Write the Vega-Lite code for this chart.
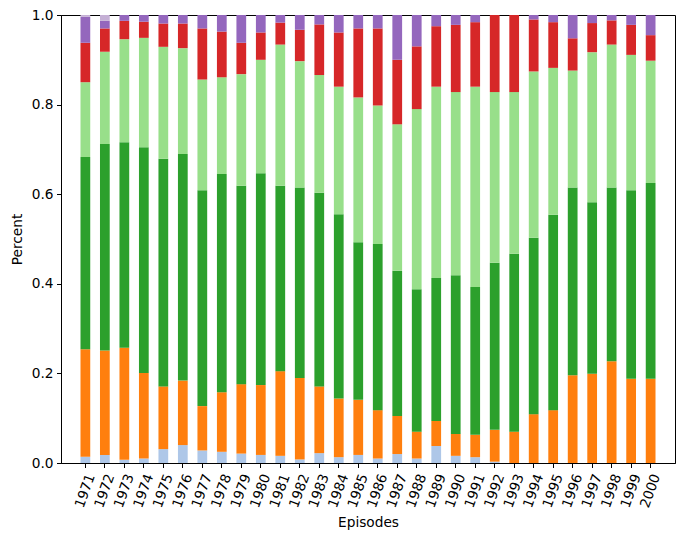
{
  "$schema": "https://vega.github.io/schema/vega-lite/v6.json",
  "width": 614,
  "height": 448,
  "autosize": "none",
  "padding": {"left": 61, "top": 15, "right": 14, "bottom": 78},
  "background": "white",
  "config": {
    "font": "DejaVu Sans",
    "view": {"stroke": "black", "strokeWidth": 1},
    "axis": {
      "grid": false,
      "domainColor": "black",
      "tickColor": "black",
      "tickSize": 4.5,
      "labelFontSize": 13.7,
      "labelColor": "black",
      "labelFont": "DejaVu Sans",
      "titleFont": "DejaVu Sans",
      "titleFontSize": 13.7,
      "titleFontWeight": "normal",
      "titleColor": "black"
    }
  },
  "data": {
    "values": [
      {"year": "1971", "group": "g1", "share": 0.014}, {"year": "1971", "group": "g2", "share": 0.240}, {"year": "1971", "group": "g3", "share": 0.429}, {"year": "1971", "group": "g4", "share": 0.167}, {"year": "1971", "group": "g5", "share": 0.088}, {"year": "1971", "group": "g6", "share": 0.058}, {"year": "1971", "group": "g7", "share": 0.004},
      {"year": "1972", "group": "g1", "share": 0.018}, {"year": "1972", "group": "g2", "share": 0.233}, {"year": "1972", "group": "g3", "share": 0.461}, {"year": "1972", "group": "g4", "share": 0.206}, {"year": "1972", "group": "g5", "share": 0.052}, {"year": "1972", "group": "g6", "share": 0.017}, {"year": "1972", "group": "g7", "share": 0.013},
      {"year": "1973", "group": "g1", "share": 0.007}, {"year": "1973", "group": "g2", "share": 0.250}, {"year": "1973", "group": "g3", "share": 0.459}, {"year": "1973", "group": "g4", "share": 0.230}, {"year": "1973", "group": "g5", "share": 0.041}, {"year": "1973", "group": "g6", "share": 0.013}, {"year": "1973", "group": "g7", "share": 0.0},
      {"year": "1974", "group": "g1", "share": 0.010}, {"year": "1974", "group": "g2", "share": 0.191}, {"year": "1974", "group": "g3", "share": 0.504}, {"year": "1974", "group": "g4", "share": 0.244}, {"year": "1974", "group": "g5", "share": 0.036}, {"year": "1974", "group": "g6", "share": 0.015}, {"year": "1974", "group": "g7", "share": 0.0},
      {"year": "1975", "group": "g1", "share": 0.031}, {"year": "1975", "group": "g2", "share": 0.140}, {"year": "1975", "group": "g3", "share": 0.508}, {"year": "1975", "group": "g4", "share": 0.250}, {"year": "1975", "group": "g5", "share": 0.052}, {"year": "1975", "group": "g6", "share": 0.019}, {"year": "1975", "group": "g7", "share": 0.0},
      {"year": "1976", "group": "g1", "share": 0.040}, {"year": "1976", "group": "g2", "share": 0.144}, {"year": "1976", "group": "g3", "share": 0.506}, {"year": "1976", "group": "g4", "share": 0.236}, {"year": "1976", "group": "g5", "share": 0.055}, {"year": "1976", "group": "g6", "share": 0.019}, {"year": "1976", "group": "g7", "share": 0.0},
      {"year": "1977", "group": "g1", "share": 0.028}, {"year": "1977", "group": "g2", "share": 0.099}, {"year": "1977", "group": "g3", "share": 0.482}, {"year": "1977", "group": "g4", "share": 0.247}, {"year": "1977", "group": "g5", "share": 0.114}, {"year": "1977", "group": "g6", "share": 0.030}, {"year": "1977", "group": "g7", "share": 0.0},
      {"year": "1978", "group": "g1", "share": 0.025}, {"year": "1978", "group": "g2", "share": 0.133}, {"year": "1978", "group": "g3", "share": 0.487}, {"year": "1978", "group": "g4", "share": 0.216}, {"year": "1978", "group": "g5", "share": 0.102}, {"year": "1978", "group": "g6", "share": 0.037}, {"year": "1978", "group": "g7", "share": 0.0},
      {"year": "1979", "group": "g1", "share": 0.021}, {"year": "1979", "group": "g2", "share": 0.155}, {"year": "1979", "group": "g3", "share": 0.443}, {"year": "1979", "group": "g4", "share": 0.249}, {"year": "1979", "group": "g5", "share": 0.070}, {"year": "1979", "group": "g6", "share": 0.062}, {"year": "1979", "group": "g7", "share": 0.0},
      {"year": "1980", "group": "g1", "share": 0.018}, {"year": "1980", "group": "g2", "share": 0.156}, {"year": "1980", "group": "g3", "share": 0.473}, {"year": "1980", "group": "g4", "share": 0.253}, {"year": "1980", "group": "g5", "share": 0.061}, {"year": "1980", "group": "g6", "share": 0.039}, {"year": "1980", "group": "g7", "share": 0.0},
      {"year": "1981", "group": "g1", "share": 0.016}, {"year": "1981", "group": "g2", "share": 0.189}, {"year": "1981", "group": "g3", "share": 0.414}, {"year": "1981", "group": "g4", "share": 0.315}, {"year": "1981", "group": "g5", "share": 0.049}, {"year": "1981", "group": "g6", "share": 0.017}, {"year": "1981", "group": "g7", "share": 0.0},
      {"year": "1982", "group": "g1", "share": 0.008}, {"year": "1982", "group": "g2", "share": 0.182}, {"year": "1982", "group": "g3", "share": 0.425}, {"year": "1982", "group": "g4", "share": 0.282}, {"year": "1982", "group": "g5", "share": 0.070}, {"year": "1982", "group": "g6", "share": 0.033}, {"year": "1982", "group": "g7", "share": 0.0},
      {"year": "1983", "group": "g1", "share": 0.022}, {"year": "1983", "group": "g2", "share": 0.149}, {"year": "1983", "group": "g3", "share": 0.432}, {"year": "1983", "group": "g4", "share": 0.263}, {"year": "1983", "group": "g5", "share": 0.113}, {"year": "1983", "group": "g6", "share": 0.021}, {"year": "1983", "group": "g7", "share": 0.0},
      {"year": "1984", "group": "g1", "share": 0.013}, {"year": "1984", "group": "g2", "share": 0.131}, {"year": "1984", "group": "g3", "share": 0.411}, {"year": "1984", "group": "g4", "share": 0.285}, {"year": "1984", "group": "g5", "share": 0.121}, {"year": "1984", "group": "g6", "share": 0.039}, {"year": "1984", "group": "g7", "share": 0.0},
      {"year": "1985", "group": "g1", "share": 0.018}, {"year": "1985", "group": "g2", "share": 0.123}, {"year": "1985", "group": "g3", "share": 0.352}, {"year": "1985", "group": "g4", "share": 0.323}, {"year": "1985", "group": "g5", "share": 0.154}, {"year": "1985", "group": "g6", "share": 0.030}, {"year": "1985", "group": "g7", "share": 0.0},
      {"year": "1986", "group": "g1", "share": 0.010}, {"year": "1986", "group": "g2", "share": 0.108}, {"year": "1986", "group": "g3", "share": 0.371}, {"year": "1986", "group": "g4", "share": 0.309}, {"year": "1986", "group": "g5", "share": 0.172}, {"year": "1986", "group": "g6", "share": 0.030}, {"year": "1986", "group": "g7", "share": 0.0},
      {"year": "1987", "group": "g1", "share": 0.020}, {"year": "1987", "group": "g2", "share": 0.085}, {"year": "1987", "group": "g3", "share": 0.324}, {"year": "1987", "group": "g4", "share": 0.327}, {"year": "1987", "group": "g5", "share": 0.144}, {"year": "1987", "group": "g6", "share": 0.100}, {"year": "1987", "group": "g7", "share": 0.0},
      {"year": "1988", "group": "g1", "share": 0.010}, {"year": "1988", "group": "g2", "share": 0.060}, {"year": "1988", "group": "g3", "share": 0.318}, {"year": "1988", "group": "g4", "share": 0.402}, {"year": "1988", "group": "g5", "share": 0.140}, {"year": "1988", "group": "g6", "share": 0.070}, {"year": "1988", "group": "g7", "share": 0.0},
      {"year": "1989", "group": "g1", "share": 0.038}, {"year": "1989", "group": "g2", "share": 0.056}, {"year": "1989", "group": "g3", "share": 0.319}, {"year": "1989", "group": "g4", "share": 0.427}, {"year": "1989", "group": "g5", "share": 0.135}, {"year": "1989", "group": "g6", "share": 0.025}, {"year": "1989", "group": "g7", "share": 0.0},
      {"year": "1990", "group": "g1", "share": 0.016}, {"year": "1990", "group": "g2", "share": 0.049}, {"year": "1990", "group": "g3", "share": 0.354}, {"year": "1990", "group": "g4", "share": 0.409}, {"year": "1990", "group": "g5", "share": 0.150}, {"year": "1990", "group": "g6", "share": 0.022}, {"year": "1990", "group": "g7", "share": 0.0},
      {"year": "1991", "group": "g1", "share": 0.013}, {"year": "1991", "group": "g2", "share": 0.050}, {"year": "1991", "group": "g3", "share": 0.330}, {"year": "1991", "group": "g4", "share": 0.447}, {"year": "1991", "group": "g5", "share": 0.144}, {"year": "1991", "group": "g6", "share": 0.016}, {"year": "1991", "group": "g7", "share": 0.0},
      {"year": "1992", "group": "g1", "share": 0.003}, {"year": "1992", "group": "g2", "share": 0.071}, {"year": "1992", "group": "g3", "share": 0.373}, {"year": "1992", "group": "g4", "share": 0.381}, {"year": "1992", "group": "g5", "share": 0.172}, {"year": "1992", "group": "g6", "share": 0.0}, {"year": "1992", "group": "g7", "share": 0.0},
      {"year": "1993", "group": "g1", "share": 0.0}, {"year": "1993", "group": "g2", "share": 0.070}, {"year": "1993", "group": "g3", "share": 0.397}, {"year": "1993", "group": "g4", "share": 0.361}, {"year": "1993", "group": "g5", "share": 0.172}, {"year": "1993", "group": "g6", "share": 0.0}, {"year": "1993", "group": "g7", "share": 0.0},
      {"year": "1994", "group": "g1", "share": 0.0}, {"year": "1994", "group": "g2", "share": 0.109}, {"year": "1994", "group": "g3", "share": 0.394}, {"year": "1994", "group": "g4", "share": 0.371}, {"year": "1994", "group": "g5", "share": 0.116}, {"year": "1994", "group": "g6", "share": 0.010}, {"year": "1994", "group": "g7", "share": 0.0},
      {"year": "1995", "group": "g1", "share": 0.0}, {"year": "1995", "group": "g2", "share": 0.118}, {"year": "1995", "group": "g3", "share": 0.436}, {"year": "1995", "group": "g4", "share": 0.328}, {"year": "1995", "group": "g5", "share": 0.102}, {"year": "1995", "group": "g6", "share": 0.016}, {"year": "1995", "group": "g7", "share": 0.0},
      {"year": "1996", "group": "g1", "share": 0.0}, {"year": "1996", "group": "g2", "share": 0.196}, {"year": "1996", "group": "g3", "share": 0.419}, {"year": "1996", "group": "g4", "share": 0.261}, {"year": "1996", "group": "g5", "share": 0.072}, {"year": "1996", "group": "g6", "share": 0.052}, {"year": "1996", "group": "g7", "share": 0.0},
      {"year": "1997", "group": "g1", "share": 0.0}, {"year": "1997", "group": "g2", "share": 0.199}, {"year": "1997", "group": "g3", "share": 0.383}, {"year": "1997", "group": "g4", "share": 0.335}, {"year": "1997", "group": "g5", "share": 0.065}, {"year": "1997", "group": "g6", "share": 0.018}, {"year": "1997", "group": "g7", "share": 0.0},
      {"year": "1998", "group": "g1", "share": 0.0}, {"year": "1998", "group": "g2", "share": 0.227}, {"year": "1998", "group": "g3", "share": 0.388}, {"year": "1998", "group": "g4", "share": 0.319}, {"year": "1998", "group": "g5", "share": 0.054}, {"year": "1998", "group": "g6", "share": 0.012}, {"year": "1998", "group": "g7", "share": 0.0},
      {"year": "1999", "group": "g1", "share": 0.0}, {"year": "1999", "group": "g2", "share": 0.188}, {"year": "1999", "group": "g3", "share": 0.421}, {"year": "1999", "group": "g4", "share": 0.302}, {"year": "1999", "group": "g5", "share": 0.067}, {"year": "1999", "group": "g6", "share": 0.022}, {"year": "1999", "group": "g7", "share": 0.0},
      {"year": "2000", "group": "g1", "share": 0.0}, {"year": "2000", "group": "g2", "share": 0.188}, {"year": "2000", "group": "g3", "share": 0.437}, {"year": "2000", "group": "g4", "share": 0.273}, {"year": "2000", "group": "g5", "share": 0.057}, {"year": "2000", "group": "g6", "share": 0.045}, {"year": "2000", "group": "g7", "share": 0.0}
    ]
  },
  "mark": {"type": "bar", "clip": true},
  "encoding": {
    "x": {
      "field": "year",
      "type": "ordinal",
      "title": "Episodes",
      "scale": {"paddingInner": 0.5, "paddingOuter": 1.475},
      "axis": {
        "labelAngle": -70,
        "labelAlign": "center",
        "labelBaseline": "middle",
        "labelPadding": 23,
        "labelOverlap": false,
        "titlePadding": 6
      }
    },
    "y": {
      "field": "share",
      "type": "quantitative",
      "stack": "zero",
      "title": "Percent",
      "scale": {"domain": [0, 1], "nice": false},
      "axis": {
        "values": [0, 0.2, 0.4, 0.6, 0.8, 1.0],
        "format": ".1f",
        "labelPadding": 3.5,
        "titlePadding": 7
      }
    },
    "color": {
      "field": "group",
      "type": "nominal",
      "legend": null,
      "scale": {
        "domain": ["g1", "g2", "g3", "g4", "g5", "g6", "g7"],
        "range": ["#aec7e8", "#ff7f0e", "#2ca02c", "#98df8a", "#d62728", "#9467bd", "#c5b0d5"]
      }
    },
    "order": {"field": "group", "sort": "ascending"}
  }
}
